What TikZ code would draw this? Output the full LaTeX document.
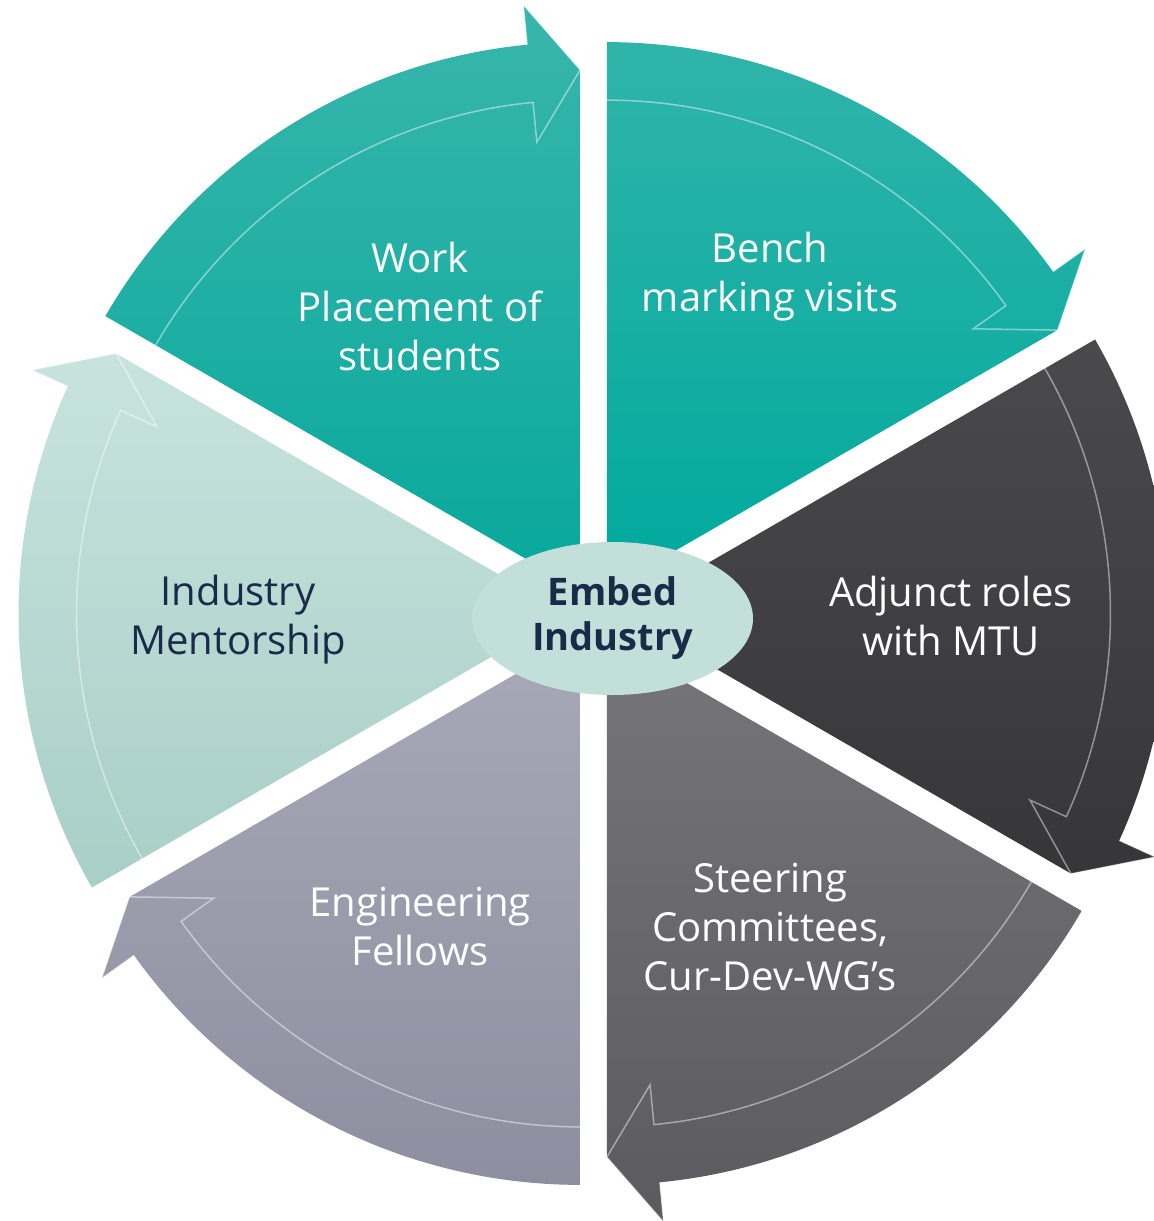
\documentclass[tikz,border=0pt]{standalone}
\usepackage{fontspec}
\setmainfont{Open Sans}
\usepackage{tikz}
\usetikzlibrary{shapes.geometric}

\definecolor{WorkTop}{HTML}{38B6AC}
\definecolor{WorkBot}{HTML}{08A89C}
\definecolor{BenchTop}{HTML}{30B4AA}
\definecolor{BenchBot}{HTML}{00A99D}
\definecolor{AdjTop}{HTML}{4A4A4D}
\definecolor{AdjBot}{HTML}{363638}
\definecolor{SteerTop}{HTML}{76767A}
\definecolor{SteerBot}{HTML}{5B5B5F}
\definecolor{FellTop}{HTML}{A7A9B8}
\definecolor{FellBot}{HTML}{8D8FA0}
\definecolor{MentTop}{HTML}{C8E3DE}
\definecolor{MentBot}{HTML}{A8CFC7}
\definecolor{HubFill}{HTML}{C2DFDA}
\definecolor{Navy}{HTML}{1A2B49}

\begin{document}
\begin{tikzpicture}[%
		x=1pt, y=1pt,
		segtext/.style={text=white, align=center, font=\fontsize{40}{49}\selectfont},
		darktext/.style={segtext, text=Navy},
		hub/.style={ellipse, fill=HubFill, minimum width=281, minimum height=153,
			inner sep=0pt, text=Navy, align=center,
			font=\fontsize{38}{45}\selectfont\bfseries}
		]

		\useasboundingbox (-593.5,-607.5) rectangle (560.5,613.5);

		%% Segmente: Startwinkel / Farben
		\foreach \a/\ct/\cb in {150/WorkTop/WorkBot, 90/BenchTop/BenchBot,
			30/AdjTop/AdjBot, -30/SteerTop/SteerBot,
			-90/FellTop/FellBot, 210/MentTop/MentBot} {
			\pgfmathsetmacro{\ea}{\a-60}
			\pgfmathsetmacro{\eb}{\a-30}
			\pgfmathsetmacro{\ab}{\a-54.5}
			\begin{scope}[shift={(\eb:27)}]
				\shade [top color=\ct, bottom color=\cb]
					(0,0) -- (\a:548) arc[start angle=\a, end angle=\ab, radius=548]
					-- (\ab:587) -- (\ea:520) -- cycle;
				\draw [white, opacity=0.45, line width=1.5pt]
					(\a:490) arc[start angle=\a, end angle=\ab, radius=490]
					-- (\ab:450) -- (\ea:520);
				\draw [white, opacity=0.3, line width=1pt]
					(\ab:548) -- (\ab:587) -- (\ea:520);
			\end{scope}
		}

		%% Beschriftungen
		\node [segtext] (work) at (-173.5,306.5) {Work\\Placement of\\students};
		\node [segtext] (bench) at (176.5,337) {Bench\\marking visits};
		\node [segtext] (adjunct) at (357.5,-2.5) {Adjunct roles\\with MTU};
		\node [segtext] (steering) at (176.5,-313.5) {Steering\\Committees,\\Cur-Dev-WG’s};
		\node [segtext] (fellows) at (-173.5,-313.5) {Engineering\\Fellows};
		\node [darktext] (mentor) at (-355.5,-6.5) {Industry\\Mentorship};

		\node [hub] (embed) at (19,-5) {Embed\\Industry};

	\end{tikzpicture}
\end{document}
